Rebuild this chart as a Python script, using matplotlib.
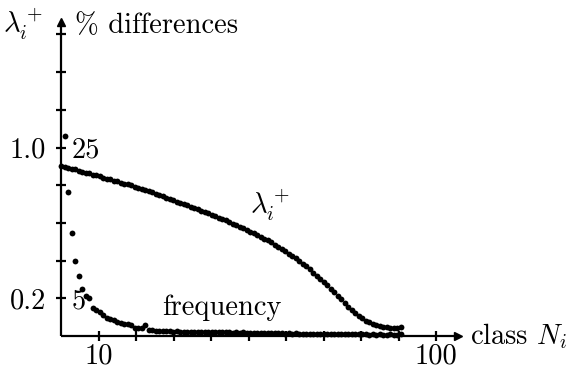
import numpy as np
import matplotlib
matplotlib.use("Agg")
import matplotlib.pyplot as plt

plt.rcParams["font.family"] = "serif"
plt.rcParams["font.serif"] = ["cmr10", "DejaVu Serif"]
plt.rcParams["mathtext.fontset"] = "cm"
plt.rcParams["axes.unicode_minus"] = False

# class sizes N_i (geometric grid of classes)
class_N = np.geomspace(7.73, 78.4, 98)

# largest Lyapunov exponent per class
lambda_plus = [
    0.825, 0.816, 0.808, 0.799, 0.791, 0.782, 0.774, 0.766, 0.758, 0.749,
    0.742, 0.734, 0.726, 0.718, 0.711, 0.703, 0.696, 0.688, 0.681, 0.674,
    0.667, 0.659, 0.652, 0.644, 0.636, 0.627, 0.619, 0.611, 0.602, 0.594,
    0.586, 0.578, 0.570, 0.562, 0.554, 0.547, 0.539, 0.532, 0.524, 0.517,
    0.510, 0.503, 0.495, 0.488, 0.480, 0.473, 0.466, 0.459, 0.452, 0.444,
    0.437, 0.430, 0.422, 0.415, 0.407, 0.400, 0.393, 0.385, 0.378, 0.371,
    0.363, 0.355, 0.347, 0.339, 0.330, 0.322, 0.314, 0.306, 0.298, 0.289,
    0.281, 0.272, 0.263, 0.255, 0.246, 0.238, 0.230, 0.222, 0.214, 0.206,
    0.1985, 0.191, 0.183, 0.1765, 0.1706, 0.1656, 0.1612, 0.1576, 0.1548, 0.1525,
    0.1507, 0.1491, 0.1479, 0.1469, 0.1461, 0.1457, 0.1455, 0.1475,
]

# frequency of each class in % (starts at the second class)
frequency = [
    28.3, 15.6, 10.07, 7.45, 6.36, 5.50, 5.14, 4.99, 4.51, 4.41,
    4.32, 4.18, 4.07, 4.00, 3.95, 3.89, 3.84, 3.80, 3.78, 3.74,
    3.66, 3.63, 3.66, 3.76, 3.56, 3.55,
    3.53, 3.52, 3.53, 3.51, 3.52, 3.50, 3.51, 3.50, 3.49, 3.50,
    3.49, 3.50, 3.48, 3.49, 3.48, 3.49, 3.48, 3.47, 3.48, 3.47,
    3.48, 3.47, 3.46, 3.47, 3.46, 3.47, 3.46, 3.45, 3.46, 3.45,
    3.46, 3.45, 3.44, 3.45, 3.44, 3.45, 3.44, 3.43, 3.44, 3.43,
    3.44, 3.43, 3.42, 3.43, 3.42, 3.43, 3.42, 3.42, 3.41, 3.42,
    3.41, 3.42, 3.41, 3.40, 3.41, 3.40, 3.41, 3.40, 3.40, 3.41,
    3.40, 3.39, 3.40, 3.39, 3.40, 3.39, 3.39, 3.40, 3.39, 3.39, 3.40,
]

x_ticks = 10 * 10 ** (np.arange(0, 10) / 9)
x_labels = {0: "10", 9: "100"}
y_ticks = 0.2 * 5 ** (np.arange(0, 8) / 4)
y_labels = {0: "0.2", 4: "1.0"}
freq_ticks = [5, 25]

FS = 20.5
MS = 4.2
fig = plt.figure(figsize=(5.66, 3.71), dpi=100)
ax = fig.add_axes([61 / 566, 1 - 336 / 371, (458 - 61) / 566, (336 - 22) / 371])
ax.set_xscale("log")
ax.set_yscale("log")
xlim = (7.73, 116.0)
ylim = (0.1337, 3.82)
ax.set_xlim(*xlim)
ax.set_ylim(*ylim)

for side in ("top", "right"):
    ax.spines[side].set_visible(False)
for side in ("left", "bottom"):
    ax.spines[side].set_linewidth(1.6)
    ax.spines[side].set_capstyle("butt")

ax.xaxis.set_minor_locator(matplotlib.ticker.NullLocator())
ax.yaxis.set_minor_locator(matplotlib.ticker.NullLocator())
ax.set_xticks(x_ticks)
ax.set_xticklabels([x_labels.get(i, "") for i in range(len(x_ticks))])
ax.set_yticks(y_ticks)
ax.set_yticklabels([y_labels.get(i, "") for i in range(len(y_ticks))])
ax.tick_params(axis="both", direction="inout", length=7, width=1.6, labelsize=FS)
ax.tick_params(axis="x", pad=2)
ax.tick_params(axis="y", pad=7)

# arrow heads on both axes
ax.plot(1, 0, ">k", ms=6, transform=ax.transAxes, clip_on=False)
ax.plot(0, 1, "^k", ms=6, transform=ax.transAxes, clip_on=False)

ax.plot(class_N, lambda_plus, "o", color="black", ms=MS, mec="none",
        clip_on=False, zorder=3)

ax2 = ax.twinx()
ax2.set_yscale("log")
ax2.set_ylim(ylim[0] * 25, ylim[1] * 25)
for side in ("top", "right", "left", "bottom"):
    ax2.spines[side].set_visible(False)
ax2.yaxis.set_minor_locator(matplotlib.ticker.NullLocator())
ax2.yaxis.set_ticks_position("left")
ax2.set_yticks(freq_ticks)
ax2.set_yticklabels([str(v) for v in freq_ticks])
ax2.tick_params(axis="y", length=0, pad=-8, labelsize=FS)
for t in ax2.get_yticklabels():
    t.set_horizontalalignment("left")

ax2.plot(class_N[1:len(frequency) + 1], frequency, "o", color="black", ms=MS,
         mec="none", clip_on=False, zorder=3)

# axis titles
fig.text(43 / 566, 1 - 33 / 371, r"$\lambda_i^+$", fontsize=FS, ha="right",
         va="baseline")
fig.text(75 / 566, 1 - 33 / 371, "% differences", fontsize=FS, ha="left",
         va="baseline")
fig.text(470 / 566, 1 - 336 / 371, r"class $N_i$", fontsize=FS, ha="left",
         va="center")

# curve labels
ax.text(32.2, 0.54, r"$\lambda_i^+$", fontsize=FS, ha="center", va="center")
ax2.text(23.2, 4.17, "frequency", fontsize=FS, ha="center", va="baseline")

fig.savefig("out.png", dpi=100)
